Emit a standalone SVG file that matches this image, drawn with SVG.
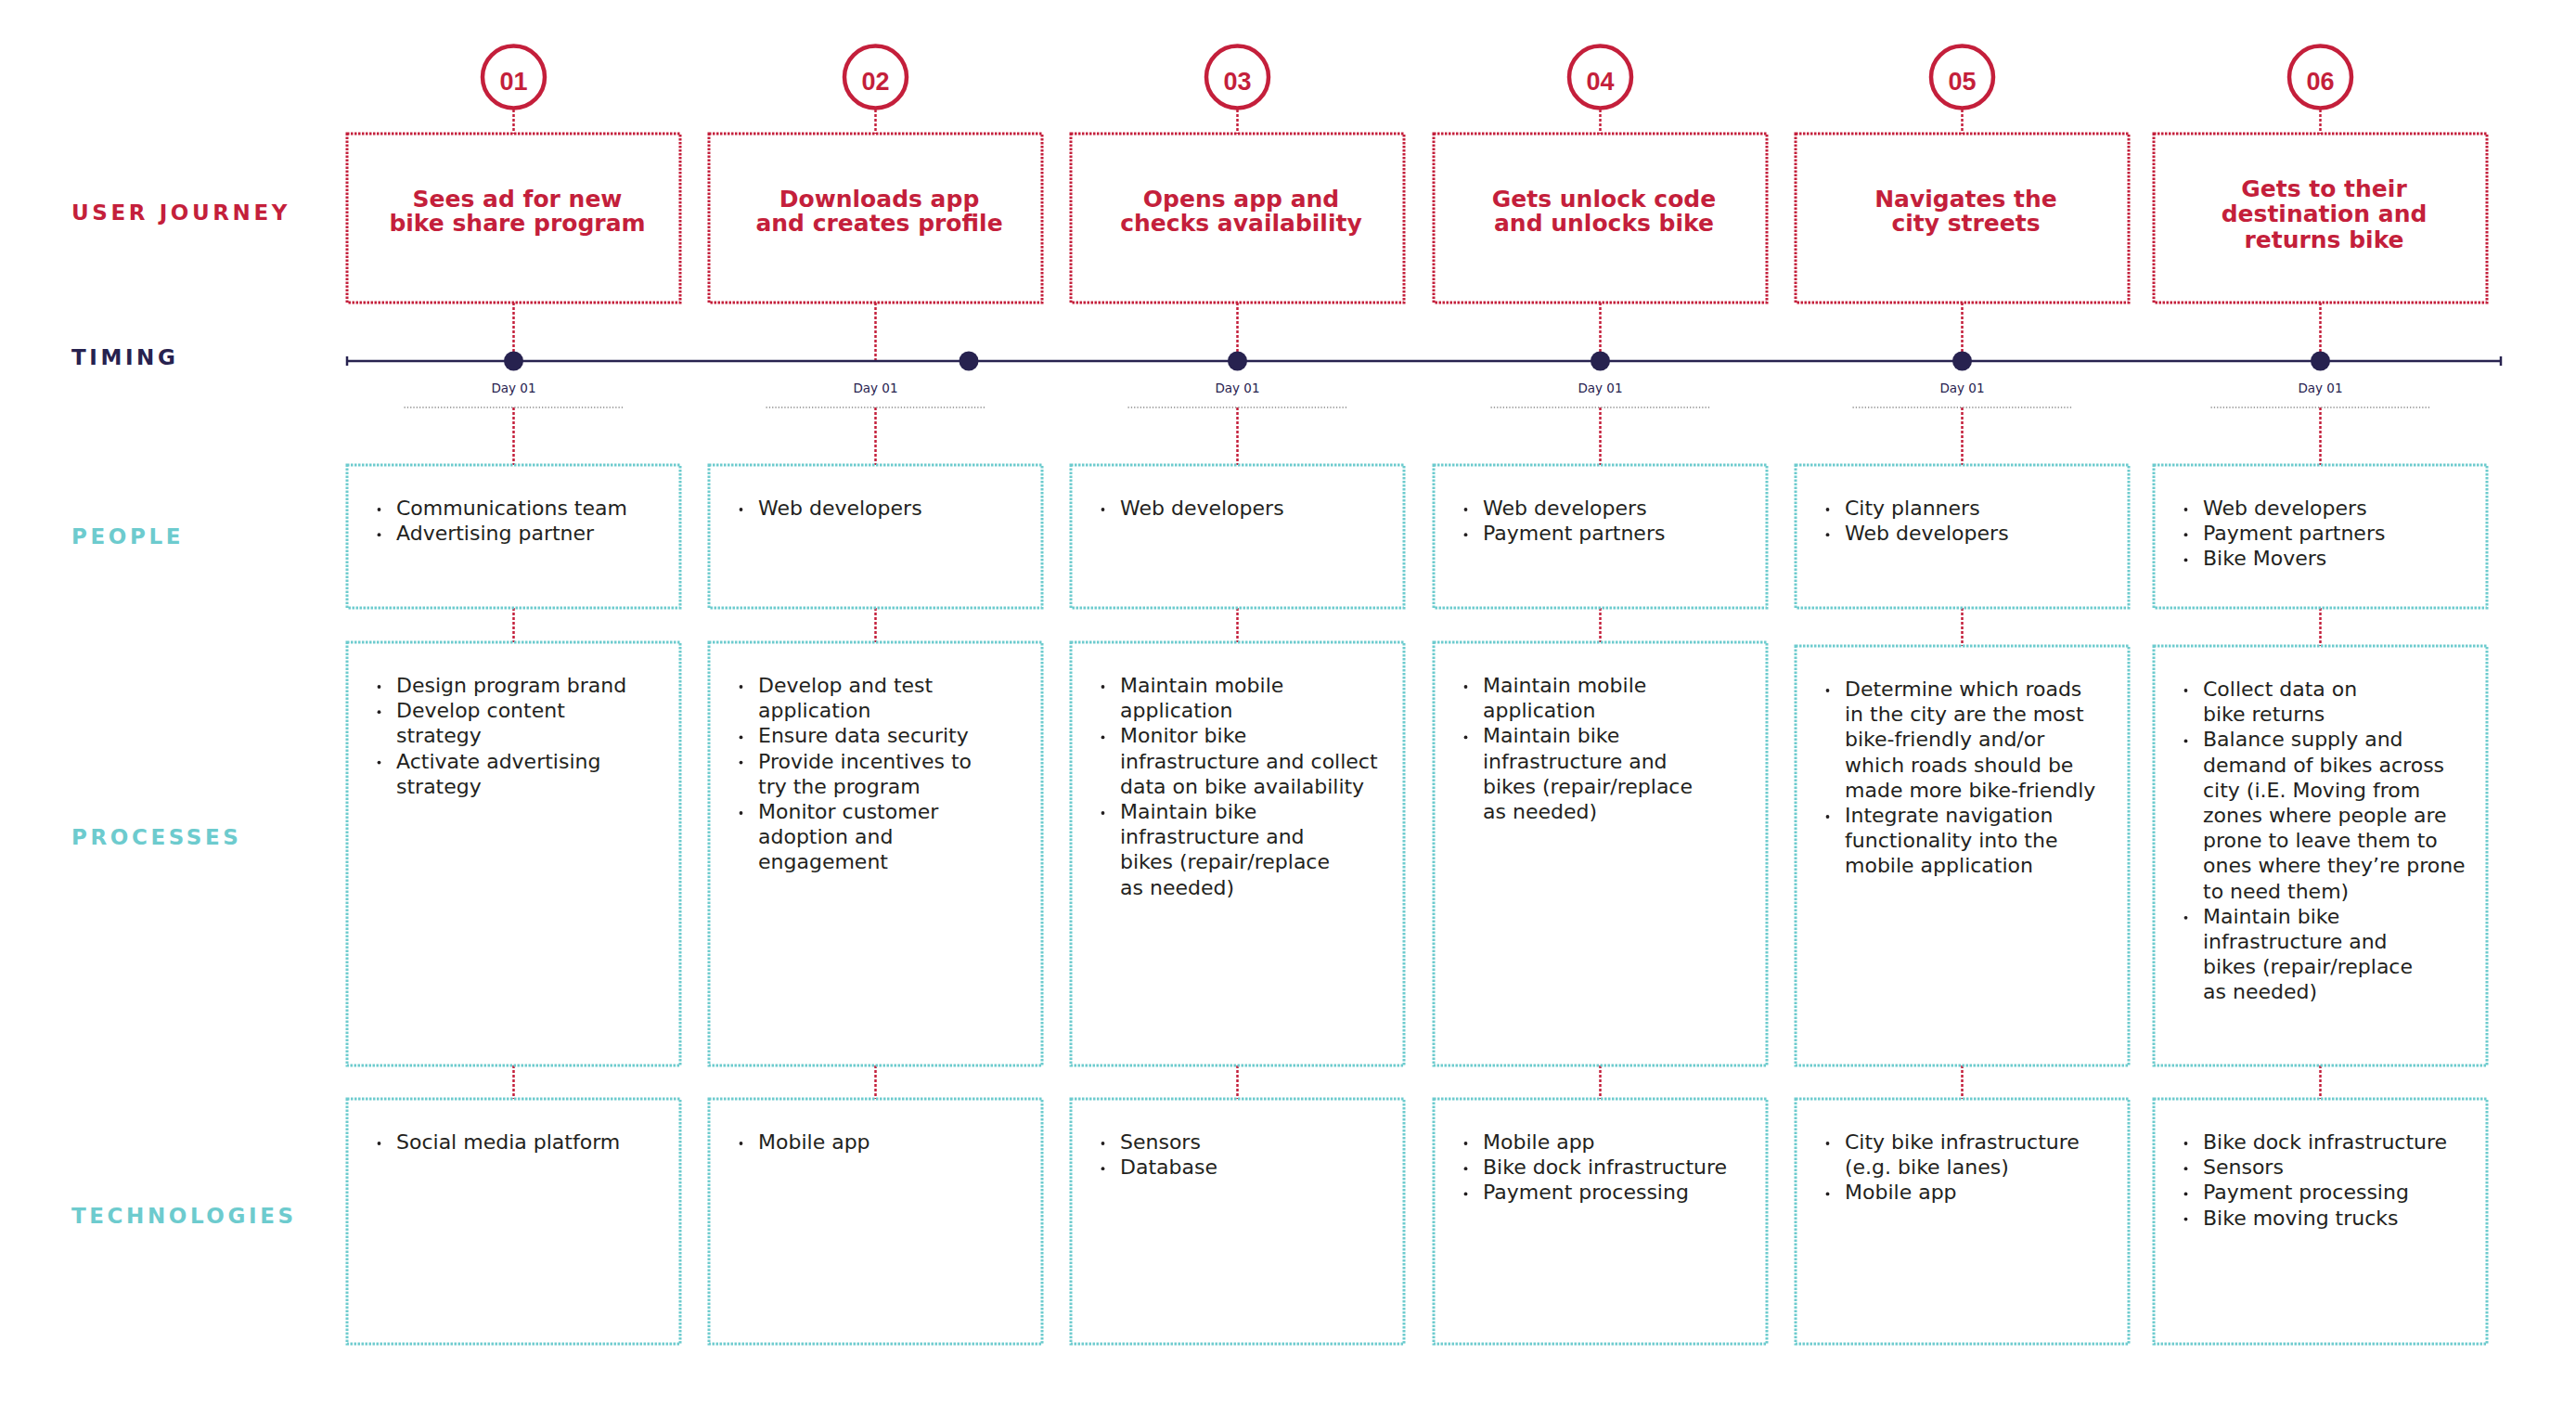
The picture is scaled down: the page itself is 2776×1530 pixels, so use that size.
<svg xmlns="http://www.w3.org/2000/svg" width="2776" height="1530" viewBox="0 0 2776 1530">
<style>
.bg{fill:#ffffff}
.uj{fill:none;stroke:#C41F3B;stroke-width:3;stroke-dasharray:2.5 1.5}
.bx{fill:none;stroke:#6DCBCE;stroke-width:3;stroke-dasharray:2.5 1.5}
.cn{fill:none;stroke:#C41F3B;stroke-width:2.5;stroke-dasharray:3 2}
.gl{fill:none;stroke:#8A8A8A;stroke-width:1.3;stroke-dasharray:1.3 2}
.tl{fill:none;stroke:#27224F;stroke-width:2.5}
.dot{fill:#27224F}
.ring{fill:#ffffff;stroke:#C41F3B;stroke-width:4.5}
.num{font-family:"Liberation Sans",Arial,sans-serif;font-weight:bold;font-size:27px;fill:#C41F3B;text-anchor:middle}
.ttl{font-family:"DejaVu Sans",sans-serif;font-weight:bold;font-size:25px;fill:#C41F3B;text-anchor:middle}
.bd{font-family:"DejaVu Sans",sans-serif;font-size:22px;fill:#231F20}
.bl{fill:#231F20}
.day{font-family:"DejaVu Sans",sans-serif;font-size:13.5px;fill:#27224F;text-anchor:middle}
.lbl{font-family:"DejaVu Sans",sans-serif;font-weight:bold;font-size:23px;letter-spacing:3.6px}
.red{fill:#C41F3B}
.navy{fill:#27224F}
.teal{fill:#6DCBCE}
</style>
<rect class="bg" x="0" y="0" width="2776" height="1530"/>

<g id="connectors">
  <line class="cn" x1="553.5" y1="118" x2="553.5" y2="144"/>
  <line class="cn" x1="943.5" y1="118" x2="943.5" y2="144"/>
  <line class="cn" x1="1333.5" y1="118" x2="1333.5" y2="144"/>
  <line class="cn" x1="1724.5" y1="118" x2="1724.5" y2="144"/>
  <line class="cn" x1="2114.5" y1="118" x2="2114.5" y2="144"/>
  <line class="cn" x1="2500.5" y1="118" x2="2500.5" y2="144"/>
  <line class="cn" x1="553.5" y1="326" x2="553.5" y2="389"/>
  <line class="cn" x1="943.5" y1="326" x2="943.5" y2="389"/>
  <line class="cn" x1="1333.5" y1="326" x2="1333.5" y2="389"/>
  <line class="cn" x1="1724.5" y1="326" x2="1724.5" y2="389"/>
  <line class="cn" x1="2114.5" y1="326" x2="2114.5" y2="389"/>
  <line class="cn" x1="2500.5" y1="326" x2="2500.5" y2="389"/>
  <line class="cn" x1="553.5" y1="439" x2="553.5" y2="501"/>
  <line class="cn" x1="943.5" y1="439" x2="943.5" y2="501"/>
  <line class="cn" x1="1333.5" y1="439" x2="1333.5" y2="501"/>
  <line class="cn" x1="1724.5" y1="439" x2="1724.5" y2="501"/>
  <line class="cn" x1="2114.5" y1="439" x2="2114.5" y2="501"/>
  <line class="cn" x1="2500.5" y1="439" x2="2500.5" y2="501"/>
  <line class="cn" x1="553.5" y1="655" x2="553.5" y2="692"/>
  <line class="cn" x1="943.5" y1="655" x2="943.5" y2="692"/>
  <line class="cn" x1="1333.5" y1="655" x2="1333.5" y2="692"/>
  <line class="cn" x1="1724.5" y1="655" x2="1724.5" y2="692"/>
  <line class="cn" x1="2114.5" y1="655" x2="2114.5" y2="696"/>
  <line class="cn" x1="2500.5" y1="655" x2="2500.5" y2="696"/>
  <line class="cn" x1="553.5" y1="1148" x2="553.5" y2="1184"/>
  <line class="cn" x1="943.5" y1="1148" x2="943.5" y2="1184"/>
  <line class="cn" x1="1333.5" y1="1148" x2="1333.5" y2="1184"/>
  <line class="cn" x1="1724.5" y1="1148" x2="1724.5" y2="1184"/>
  <line class="cn" x1="2114.5" y1="1148" x2="2114.5" y2="1184"/>
  <line class="cn" x1="2500.5" y1="1148" x2="2500.5" y2="1184"/>
</g>

<g id="row-labels">
  <text id="label-user-journey" class="lbl red" x="77" y="237">USER JOURNEY</text>
  <text id="label-timing" class="lbl navy" x="77" y="393">TIMING</text>
  <text id="label-people" class="lbl teal" x="77" y="586">PEOPLE</text>
  <text id="label-processes" class="lbl teal" x="77" y="910">PROCESSES</text>
  <text id="label-technologies" class="lbl teal" x="77" y="1318">TECHNOLOGIES</text>
</g>

<g id="timeline">
  <line class="tl" x1="374" y1="389" x2="2695" y2="389"/>
  <line class="tl" x1="374" y1="384" x2="374" y2="394"/>
  <line class="tl" x1="2695" y1="384" x2="2695" y2="394"/>
  <circle class="dot" cx="553.5" cy="389" r="10.5"/>
  <circle class="dot" cx="1044" cy="389" r="10.5"/>
  <circle class="dot" cx="1333.5" cy="389" r="10.5"/>
  <circle class="dot" cx="1724.5" cy="389" r="10.5"/>
  <circle class="dot" cx="2114.5" cy="389" r="10.5"/>
  <circle class="dot" cx="2500.5" cy="389" r="10.5"/>
  <text class="day" x="553.5" y="423">Day 01</text>
  <text class="day" x="943.5" y="423">Day 01</text>
  <text class="day" x="1333.5" y="423">Day 01</text>
  <text class="day" x="1724.5" y="423">Day 01</text>
  <text class="day" x="2114.5" y="423">Day 01</text>
  <text class="day" x="2500.5" y="423">Day 01</text>
  <line class="gl" x1="435.5" y1="439" x2="671.5" y2="439"/>
  <line class="gl" x1="825.5" y1="439" x2="1061.5" y2="439"/>
  <line class="gl" x1="1215.5" y1="439" x2="1451.5" y2="439"/>
  <line class="gl" x1="1606.5" y1="439" x2="1842.5" y2="439"/>
  <line class="gl" x1="1996.5" y1="439" x2="2232.5" y2="439"/>
  <line class="gl" x1="2382.5" y1="439" x2="2618.5" y2="439"/>
</g>

<g id="step-01"><circle class="ring" cx="553.5" cy="83" r="33.5"/><text class="num" x="553.5" y="96.5">01</text></g>
<g id="step-02"><circle class="ring" cx="943.5" cy="83" r="33.5"/><text class="num" x="943.5" y="96.5">02</text></g>
<g id="step-03"><circle class="ring" cx="1333.5" cy="83" r="33.5"/><text class="num" x="1333.5" y="96.5">03</text></g>
<g id="step-04"><circle class="ring" cx="1724.5" cy="83" r="33.5"/><text class="num" x="1724.5" y="96.5">04</text></g>
<g id="step-05"><circle class="ring" cx="2114.5" cy="83" r="33.5"/><text class="num" x="2114.5" y="96.5">05</text></g>
<g id="step-06"><circle class="ring" cx="2500.5" cy="83" r="33.5"/><text class="num" x="2500.5" y="96.5">06</text></g>

<g id="journey-01"><rect class="uj" x="374" y="144" width="359" height="182"/>
  <text class="ttl"><tspan x="557.5" y="222.5">Sees ad for new</tspan><tspan x="557.5" y="249.3">bike share program</tspan></text></g>
<g id="journey-02"><rect class="uj" x="764" y="144" width="359" height="182"/>
  <text class="ttl"><tspan x="947.5" y="222.5">Downloads app</tspan><tspan x="947.5" y="249.3">and creates profile</tspan></text></g>
<g id="journey-03"><rect class="uj" x="1154" y="144" width="359" height="182"/>
  <text class="ttl"><tspan x="1337.5" y="222.5">Opens app and</tspan><tspan x="1337.5" y="249.3">checks availability</tspan></text></g>
<g id="journey-04"><rect class="uj" x="1545" y="144" width="359" height="182"/>
  <text class="ttl"><tspan x="1728.5" y="222.5">Gets unlock code</tspan><tspan x="1728.5" y="249.3">and unlocks bike</tspan></text></g>
<g id="journey-05"><rect class="uj" x="1935" y="144" width="359" height="182"/>
  <text class="ttl"><tspan x="2118.5" y="222.5">Navigates the</tspan><tspan x="2118.5" y="249.3">city streets</tspan></text></g>
<g id="journey-06"><rect class="uj" x="2321" y="144" width="359" height="182"/>
  <text class="ttl"><tspan x="2504.5" y="212">Gets to their</tspan><tspan x="2504.5" y="239.3">destination and</tspan><tspan x="2504.5" y="266.6">returns bike</tspan></text></g>

<g id="people-01"><rect class="bx" x="374" y="501" width="359" height="154"/>
  <circle class="bl" cx="408.5" cy="549" r="1.9"/><circle class="bl" cx="408.5" cy="576.2" r="1.9"/>
  <text class="bd"><tspan x="427" y="555">Communications team</tspan><tspan x="427" y="582.2">Advertising partner</tspan></text></g>
<g id="people-02"><rect class="bx" x="764" y="501" width="359" height="154"/>
  <circle class="bl" cx="798.5" cy="549" r="1.9"/>
  <text class="bd"><tspan x="817" y="555">Web developers</tspan></text></g>
<g id="people-03"><rect class="bx" x="1154" y="501" width="359" height="154"/>
  <circle class="bl" cx="1188.5" cy="549" r="1.9"/>
  <text class="bd"><tspan x="1207" y="555">Web developers</tspan></text></g>
<g id="people-04"><rect class="bx" x="1545" y="501" width="359" height="154"/>
  <circle class="bl" cx="1579.5" cy="549" r="1.9"/><circle class="bl" cx="1579.5" cy="576.2" r="1.9"/>
  <text class="bd"><tspan x="1598" y="555">Web developers</tspan><tspan x="1598" y="582.2">Payment partners</tspan></text></g>
<g id="people-05"><rect class="bx" x="1935" y="501" width="359" height="154"/>
  <circle class="bl" cx="1969.5" cy="549" r="1.9"/><circle class="bl" cx="1969.5" cy="576.2" r="1.9"/>
  <text class="bd"><tspan x="1988" y="555">City planners</tspan><tspan x="1988" y="582.2">Web developers</tspan></text></g>
<g id="people-06"><rect class="bx" x="2321" y="501" width="359" height="154"/>
  <circle class="bl" cx="2355.5" cy="549" r="1.9"/><circle class="bl" cx="2355.5" cy="576.2" r="1.9"/><circle class="bl" cx="2355.5" cy="603.4" r="1.9"/>
  <text class="bd"><tspan x="2374" y="555">Web developers</tspan><tspan x="2374" y="582.2">Payment partners</tspan><tspan x="2374" y="609.4">Bike Movers</tspan></text></g>

<g id="processes-01"><rect class="bx" x="374" y="692" width="359" height="456"/>
  <circle class="bl" cx="408.5" cy="740" r="1.9"/><circle class="bl" cx="408.5" cy="767.2" r="1.9"/><circle class="bl" cx="408.5" cy="821.6" r="1.9"/>
  <text class="bd"><tspan x="427" y="746">Design program brand</tspan><tspan x="427" y="773.2">Develop content</tspan><tspan x="427" y="800.4">strategy</tspan><tspan x="427" y="827.6">Activate advertising</tspan><tspan x="427" y="854.8">strategy</tspan></text></g>
<g id="processes-02"><rect class="bx" x="764" y="692" width="359" height="456"/>
  <circle class="bl" cx="798.5" cy="740" r="1.9"/><circle class="bl" cx="798.5" cy="794.4" r="1.9"/><circle class="bl" cx="798.5" cy="821.6" r="1.9"/><circle class="bl" cx="798.5" cy="876" r="1.9"/>
  <text class="bd"><tspan x="817" y="746">Develop and test</tspan><tspan x="817" y="773.2">application</tspan><tspan x="817" y="800.4">Ensure data security</tspan><tspan x="817" y="827.6">Provide incentives to</tspan><tspan x="817" y="854.8">try the program</tspan><tspan x="817" y="882">Monitor customer</tspan><tspan x="817" y="909.2">adoption and</tspan><tspan x="817" y="936.4">engagement</tspan></text></g>
<g id="processes-03"><rect class="bx" x="1154" y="692" width="359" height="456"/>
  <circle class="bl" cx="1188.5" cy="740" r="1.9"/><circle class="bl" cx="1188.5" cy="794.4" r="1.9"/><circle class="bl" cx="1188.5" cy="876" r="1.9"/>
  <text class="bd"><tspan x="1207" y="746">Maintain mobile</tspan><tspan x="1207" y="773.2">application</tspan><tspan x="1207" y="800.4">Monitor bike</tspan><tspan x="1207" y="827.6">infrastructure and collect</tspan><tspan x="1207" y="854.8">data on bike availability</tspan><tspan x="1207" y="882">Maintain bike</tspan><tspan x="1207" y="909.2">infrastructure and</tspan><tspan x="1207" y="936.4">bikes (repair/replace</tspan><tspan x="1207" y="963.6">as needed)</tspan></text></g>
<g id="processes-04"><rect class="bx" x="1545" y="692" width="359" height="456"/>
  <circle class="bl" cx="1579.5" cy="740" r="1.9"/><circle class="bl" cx="1579.5" cy="794.4" r="1.9"/>
  <text class="bd"><tspan x="1598" y="746">Maintain mobile</tspan><tspan x="1598" y="773.2">application</tspan><tspan x="1598" y="800.4">Maintain bike</tspan><tspan x="1598" y="827.6">infrastructure and</tspan><tspan x="1598" y="854.8">bikes (repair/replace</tspan><tspan x="1598" y="882">as needed)</tspan></text></g>
<g id="processes-05"><rect class="bx" x="1935" y="696" width="359" height="452"/>
  <circle class="bl" cx="1969.5" cy="744" r="1.9"/><circle class="bl" cx="1969.5" cy="880" r="1.9"/>
  <text class="bd"><tspan x="1988" y="750">Determine which roads</tspan><tspan x="1988" y="777.2">in the city are the most</tspan><tspan x="1988" y="804.4">bike-friendly and/or</tspan><tspan x="1988" y="831.6">which roads should be</tspan><tspan x="1988" y="858.8">made more bike-friendly</tspan><tspan x="1988" y="886">Integrate navigation</tspan><tspan x="1988" y="913.2">functionality into the</tspan><tspan x="1988" y="940.4">mobile application</tspan></text></g>
<g id="processes-06"><rect class="bx" x="2321" y="696" width="359" height="452"/>
  <circle class="bl" cx="2355.5" cy="744" r="1.9"/><circle class="bl" cx="2355.5" cy="798.4" r="1.9"/><circle class="bl" cx="2355.5" cy="988.8" r="1.9"/>
  <text class="bd"><tspan x="2374" y="750">Collect data on</tspan><tspan x="2374" y="777.2">bike returns</tspan><tspan x="2374" y="804.4">Balance supply and</tspan><tspan x="2374" y="831.6">demand of bikes across</tspan><tspan x="2374" y="858.8">city (i.E. Moving from</tspan><tspan x="2374" y="886">zones where people are</tspan><tspan x="2374" y="913.2">prone to leave them to</tspan><tspan x="2374" y="940.4">ones where they’re prone</tspan><tspan x="2374" y="967.6">to need them)</tspan><tspan x="2374" y="994.8">Maintain bike</tspan><tspan x="2374" y="1022">infrastructure and</tspan><tspan x="2374" y="1049.2">bikes (repair/replace</tspan><tspan x="2374" y="1076.4">as needed)</tspan></text></g>

<g id="tech-01"><rect class="bx" x="374" y="1184" width="359" height="264"/>
  <circle class="bl" cx="408.5" cy="1232" r="1.9"/>
  <text class="bd"><tspan x="427" y="1238">Social media platform</tspan></text></g>
<g id="tech-02"><rect class="bx" x="764" y="1184" width="359" height="264"/>
  <circle class="bl" cx="798.5" cy="1232" r="1.9"/>
  <text class="bd"><tspan x="817" y="1238">Mobile app</tspan></text></g>
<g id="tech-03"><rect class="bx" x="1154" y="1184" width="359" height="264"/>
  <circle class="bl" cx="1188.5" cy="1232" r="1.9"/><circle class="bl" cx="1188.5" cy="1259.2" r="1.9"/>
  <text class="bd"><tspan x="1207" y="1238">Sensors</tspan><tspan x="1207" y="1265.2">Database</tspan></text></g>
<g id="tech-04"><rect class="bx" x="1545" y="1184" width="359" height="264"/>
  <circle class="bl" cx="1579.5" cy="1232" r="1.9"/><circle class="bl" cx="1579.5" cy="1259.2" r="1.9"/><circle class="bl" cx="1579.5" cy="1286.4" r="1.9"/>
  <text class="bd"><tspan x="1598" y="1238">Mobile app</tspan><tspan x="1598" y="1265.2">Bike dock infrastructure</tspan><tspan x="1598" y="1292.4">Payment processing</tspan></text></g>
<g id="tech-05"><rect class="bx" x="1935" y="1184" width="359" height="264"/>
  <circle class="bl" cx="1969.5" cy="1232" r="1.9"/><circle class="bl" cx="1969.5" cy="1286.4" r="1.9"/>
  <text class="bd"><tspan x="1988" y="1238">City bike infrastructure</tspan><tspan x="1988" y="1265.2">(e.g. bike lanes)</tspan><tspan x="1988" y="1292.4">Mobile app</tspan></text></g>
<g id="tech-06"><rect class="bx" x="2321" y="1184" width="359" height="264"/>
  <circle class="bl" cx="2355.5" cy="1232" r="1.9"/><circle class="bl" cx="2355.5" cy="1259.2" r="1.9"/><circle class="bl" cx="2355.5" cy="1286.4" r="1.9"/><circle class="bl" cx="2355.5" cy="1313.6" r="1.9"/>
  <text class="bd"><tspan x="2374" y="1238">Bike dock infrastructure</tspan><tspan x="2374" y="1265.2">Sensors</tspan><tspan x="2374" y="1292.4">Payment processing</tspan><tspan x="2374" y="1319.6">Bike moving trucks</tspan></text></g>
</svg>
